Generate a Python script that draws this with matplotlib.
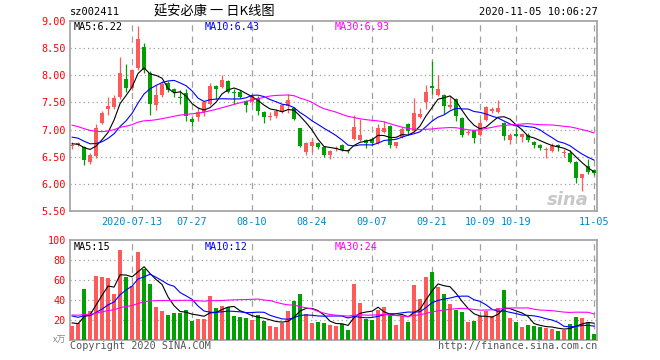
import numpy as np
import pandas as pd
import matplotlib.pyplot as plt

# daily K data, 2020-06-29 .. 2020-11-05 (88 trading days)
opens = [6.70, 6.72, 6.68, 6.40, 6.51, 7.13, 7.38, 7.41, 7.60, 7.93,
         7.76, 8.13, 8.53, 8.04, 7.45, 7.64, 7.85, 7.75, 7.60, 7.67,
         7.19, 7.24, 7.33, 7.47, 7.81, 7.78, 7.89, 7.69, 7.70, 7.53,
         7.50, 7.59, 7.33, 7.23, 7.25, 7.33, 7.43, 7.39, 7.03, 6.59,
         6.70, 6.75, 6.68, 6.53, 6.64, 6.72, 6.63, 6.82, 6.81, 6.81,
         6.82, 6.76, 6.96, 7.07, 6.69, 6.87, 7.10, 6.97, 7.24, 7.50,
         7.80, 7.64, 7.64, 7.41, 7.56, 7.21, 6.94, 6.99, 6.90, 7.18,
         7.35, 7.32, 7.12, 6.80, 6.91, 6.86, 6.90, 6.78, 6.72, 6.63,
         6.61, 6.72, 6.56, 6.56, 6.40, 6.10, 6.33, 6.26]
highs = [6.77, 6.77, 6.70, 6.56, 7.10, 7.35, 7.60, 7.63, 8.34, 8.21,
         8.12, 8.90, 8.60, 8.07, 7.82, 7.90, 7.90, 7.77, 7.72, 7.74,
         7.23, 7.42, 7.52, 7.85, 7.82, 8.01, 7.91, 7.74, 7.72, 7.54,
         7.63, 7.61, 7.35, 7.33, 7.37, 7.48, 7.66, 7.41, 7.03, 6.77,
         6.85, 6.77, 6.69, 6.63, 6.70, 6.73, 6.65, 7.27, 7.20, 6.83,
         6.86, 7.10, 7.15, 7.09, 6.78, 7.05, 7.12, 7.58, 7.40, 7.82,
         8.27, 8.00, 7.66, 7.62, 7.58, 7.23, 6.99, 7.00, 7.17, 7.43,
         7.41, 7.55, 7.14, 6.93, 7.02, 6.93, 6.93, 6.79, 6.73, 6.67,
         6.75, 6.74, 6.64, 6.63, 6.42, 6.19, 6.45, 6.27]
lows = [6.65, 6.70, 6.35, 6.37, 6.48, 7.10, 7.27, 7.38, 7.57, 7.70,
        7.72, 8.10, 8.05, 7.27, 7.36, 7.60, 7.70, 7.60, 7.48, 7.15,
        7.06, 7.15, 7.25, 7.45, 7.56, 7.76, 7.68, 7.48, 7.58, 7.33,
        7.48, 7.27, 7.13, 7.18, 7.22, 7.30, 7.31, 7.17, 6.68, 6.53,
        6.58, 6.65, 6.50, 6.45, 6.60, 6.60, 6.57, 6.80, 6.79, 6.66,
        6.69, 6.74, 6.94, 6.66, 6.66, 6.85, 6.92, 6.95, 7.21, 7.38,
        7.66, 7.62, 7.28, 7.38, 7.16, 6.86, 6.90, 6.76, 6.88, 7.16,
        7.30, 7.30, 6.80, 6.73, 6.86, 6.77, 6.78, 6.66, 6.63, 6.47,
        6.59, 6.61, 6.50, 6.39, 6.01, 5.86, 6.19, 6.16]
closes = [6.72, 6.76, 6.44, 6.53, 7.03, 7.31, 7.43, 7.59, 8.04, 7.77,
          8.10, 8.67, 8.10, 7.48, 7.64, 7.84, 7.73, 7.69, 7.58, 7.25,
          7.14, 7.33, 7.50, 7.80, 7.75, 7.91, 7.70, 7.67, 7.60, 7.45,
          7.61, 7.35, 7.24, 7.25, 7.35, 7.45, 7.55, 7.19, 6.70, 6.75,
          6.78, 6.68, 6.53, 6.61, 6.66, 6.62, 6.61, 7.04, 6.90, 6.76,
          6.75, 7.02, 7.02, 6.72, 6.77, 7.01, 6.97, 7.30, 7.28, 7.70,
          7.77, 7.75, 7.43, 7.45, 7.25, 6.90, 6.96, 6.84, 7.12, 7.41,
          7.37, 7.40, 6.88, 6.90, 6.89, 6.92, 6.80, 6.72, 6.66, 6.65,
          6.70, 6.68, 6.59, 6.41, 6.10, 6.18, 6.21, 6.20]
volumes = [14.3, 16.7, 51, 28.7, 64.3, 63.3, 62.3, 46, 90, 63.3,
           54, 88, 71, 56, 33.3, 29.3, 25.3, 27.3, 27.3, 30,
           19.3, 20.7, 21.3, 44.3, 32, 34.3, 32.7, 24.3, 22.7, 21.7,
           20.3, 25.3, 19.3, 14.3, 13.3, 17.3, 29.3, 39.3, 46, 26,
           17.3, 18.3, 17.3, 15.3, 14.3, 16, 10, 56, 37, 21,
           20, 30, 33, 25.3, 15, 24.3, 18, 55, 41, 63,
           68, 53.3, 46, 36, 30.3, 28, 18, 19, 24.3, 29.3,
           23.7, 32, 50, 22, 18, 13, 15, 14.3, 13, 11.7,
           11, 9, 10, 16, 23, 22, 17, 6]

# 29 days before the window, only needed so the moving averages start right
prev_closes = [7.60, 7.55, 7.50, 7.52, 7.50, 7.05, 6.85, 6.80, 7.10, 7.25,
               7.30, 7.35, 7.28, 7.25, 7.25, 7.10, 7.00, 6.90, 6.85, 6.85,
               6.95, 7.00, 7.00, 6.98, 6.98, 6.80, 6.75, 6.70, 6.72]
prev_volumes = [24, 27, 26, 25, 28, 24, 23, 26, 27, 25,
                26, 24, 25, 27, 26, 25, 24, 27, 26, 25,
                30, 34, 29, 32, 30, 20, 17, 18, 16]

date_idx = [10, 20, 30, 40, 50, 60, 68, 74, 87]
date_labels = ['2020-07-13', '07-27', '08-10', '08-24', '09-07',
               '09-21', '10-09', '10-19', '11-05']
price_ticks = [5.5, 6.0, 6.5, 7.0, 7.5, 8.0, 8.5, 9.0]
vol_ticks = [20, 40, 60, 80, 100]

RED = '#ff5a5a'
GREEN = '#00a000'
GRID = '#a0a0a0'
MONO = 'DejaVu Sans Mono'
W, H = 660, 360


def rect(l, t, r, b):
    return [l / W, 1 - b / H, (r - l) / W, (b - t) / H]


def ftext(x, y, s, **kw):
    fig.text(x / W, 1 - y / H, s, va='center', **kw)


n = len(closes)
x = np.arange(n)
o = np.array(opens)
c = np.array(closes)
up = c >= o
cols = np.where(up, RED, GREEN)

all_c = pd.Series(prev_closes + closes)
all_v = pd.Series(prev_volumes + volumes)
ma = {k: all_c.rolling(k).mean().values[-n:] for k in (5, 10, 30)}
vma = {k: all_v.rolling(k).mean().values[-n:] for k in (5, 10, 30)}
ma_cols = {5: 'black', 10: '#0000ff', 30: '#ff00ff'}

fig = plt.figure(figsize=(6.6, 3.6), dpi=100)
ax = fig.add_axes(rect(70, 21, 597, 211))
axv = fig.add_axes(rect(70, 240, 597, 340))

for a in (ax, axv):
    a.set_xlim(-0.35, n - 0.5)
    for s in a.spines.values():
        s.set_color(GRID)
        s.set_linewidth(1.2)
    for d in date_idx:
        a.axvline(d, color=GRID, lw=0.9, ls=(0, (5, 4)), zorder=0)
    a.tick_params(length=0)

# price panel
for p in price_ticks[1:-1]:
    ax.axhline(p, color=GRID, lw=0.9, ls=(0, (1, 2.5)), zorder=0)
body_lo = np.minimum(o, c)
body_h = np.maximum(np.abs(c - o), 0.015)
ax.vlines(x, lows, highs, color=cols, lw=0.9, zorder=2)
ax.bar(x, body_h, bottom=body_lo, width=0.8, color=cols, linewidth=0, zorder=3)
for k in (5, 10, 30):
    ax.plot(x, ma[k], color=ma_cols[k], lw=0.8, zorder=4)
ax.set_ylim(5.5, 9.0)
ax.set_yticks(price_ticks)
ax.set_yticklabels([f'{p:.2f}' for p in price_ticks], color='red',
                   family=MONO, fontsize=7.3)
ax.set_xticks(date_idx)
ax.set_xticklabels(date_labels, color='#0088cc', family=MONO, fontsize=7.3)
ax.tick_params(axis='y', pad=3)
ax.tick_params(axis='x', pad=4)
ax.text(0.985, 0.06, 'sina', transform=ax.transAxes, ha='right', va='center',
        color='#c8c8c8', fontsize=13, style='italic', weight='bold')

# volume panel
for v in vol_ticks[:-1]:
    axv.axhline(v, color=GRID, lw=0.9, ls=(0, (1, 2.5)), zorder=0)
axv.bar(x, volumes, width=0.8, color=cols, linewidth=0, zorder=3)
for k in (5, 10, 30):
    axv.plot(x, vma[k], color=ma_cols[k], lw=0.8, zorder=4)
axv.set_ylim(0, 100)
axv.set_yticks(vol_ticks)
axv.set_yticklabels([str(v) for v in vol_ticks], color='red',
                    family=MONO, fontsize=7.3)
axv.tick_params(axis='y', pad=3)
axv.set_xticks([])

# header and legends
ftext(70, 12, 'sz002411', family=MONO, fontsize=7.5, color='black')
ftext(214, 12, '延安必康 一 日K线图', family=['Noto Sans CJK SC', 'DejaVu Sans'],
      fontsize=9.5, color='black', ha='center')
ftext(598, 12, '2020-11-05 10:06:27', family=MONO, fontsize=7.5,
      color='black', ha='right')
ftext(74, 27, 'MA5:6.22', family=MONO, fontsize=7.3, color='black')
ftext(205, 27, 'MA10:6.43', family=MONO, fontsize=7.3, color='#0000ff')
ftext(335, 27, 'MA30:6.93', family=MONO, fontsize=7.3, color='#ff00ff')
ftext(74, 247, 'MA5:15', family=MONO, fontsize=7.3, color='black')
ftext(205, 247, 'MA10:12', family=MONO, fontsize=7.3, color='#0000ff')
ftext(335, 247, 'MA30:24', family=MONO, fontsize=7.3, color='#ff00ff')
ftext(66, 340, 'x万', family=['Noto Sans CJK SC', 'DejaVu Sans'], fontsize=6.5,
      color='#888888', ha='right')
ftext(70, 346, 'Copyright 2020 SINA.COM', family=MONO, fontsize=7.3, color='#555555')
ftext(597, 346, 'http://finance.sina.com.cn', family=MONO, fontsize=7.3,
      color='#555555', ha='right')

fig.savefig('out.png', dpi=100)
